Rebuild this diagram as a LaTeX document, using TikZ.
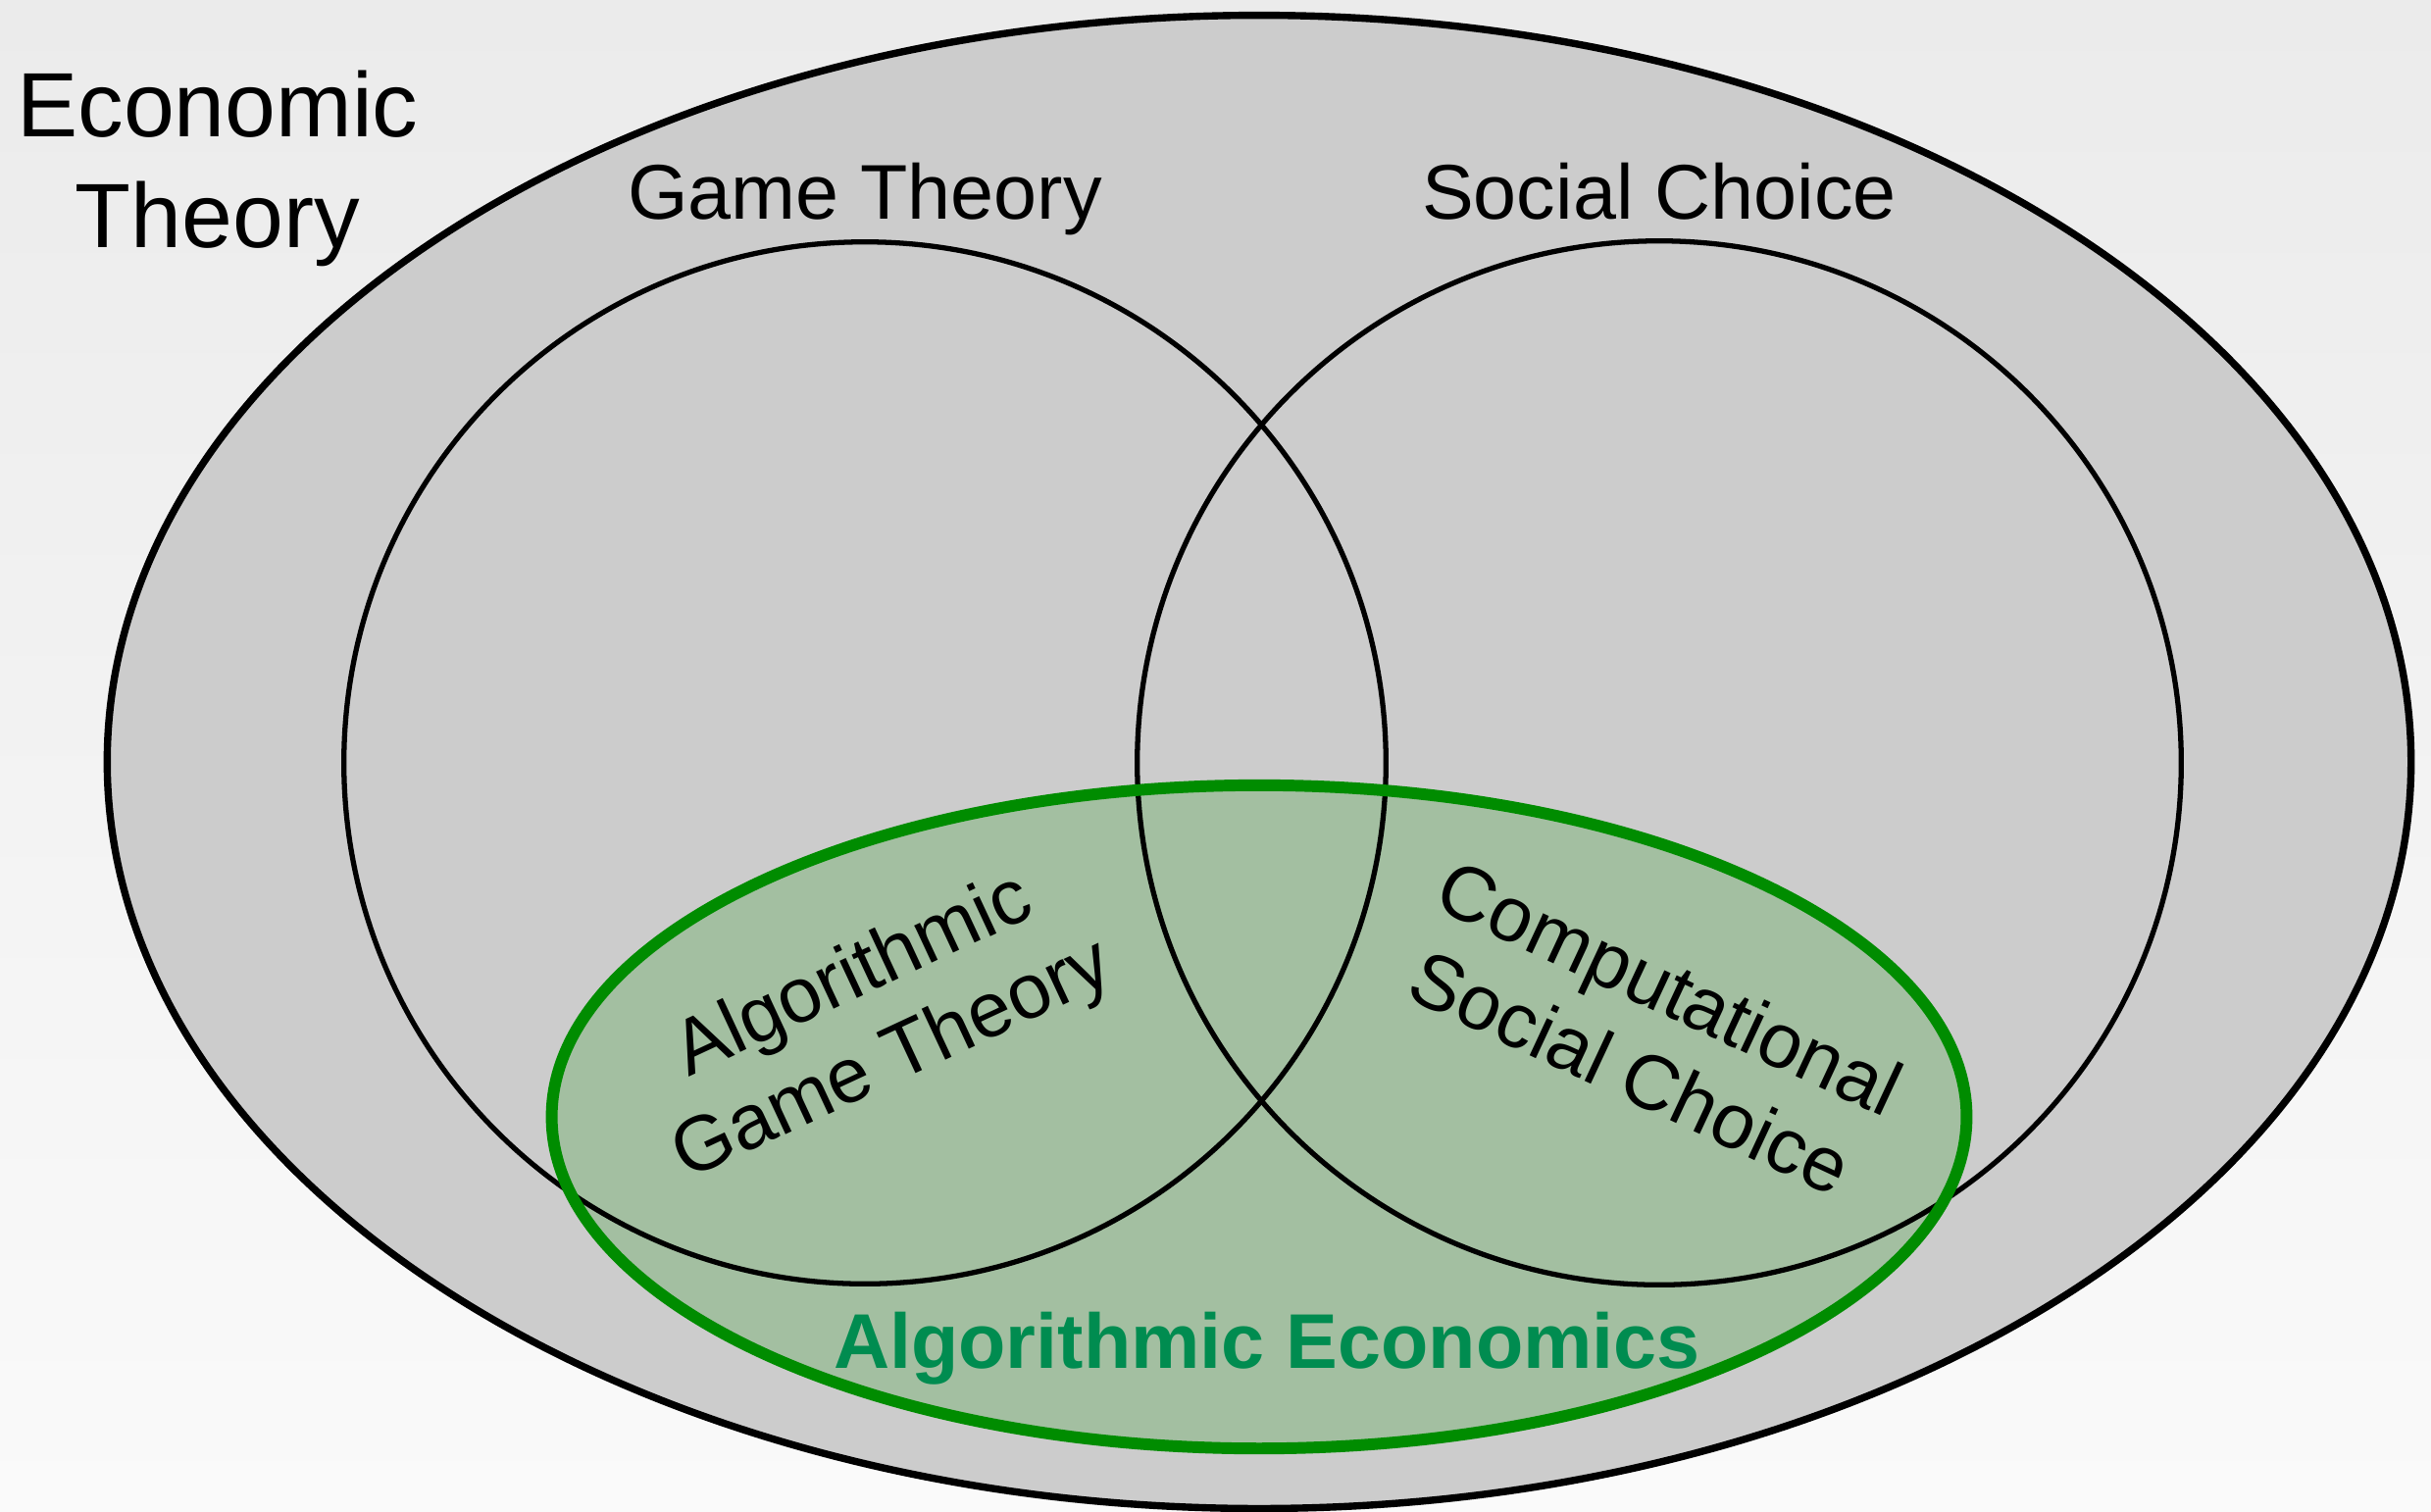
\documentclass[tikz,border=0pt]{standalone}
\usepackage{fontspec}
\setmainfont{Liberation Sans}
\definecolor{bgtop}{HTML}{EBEBEB}
\definecolor{bgbot}{HTML}{FAFAFA}
\definecolor{outerfill}{HTML}{CCCCCC}
\definecolor{algfill}{HTML}{A3BFA1}
\definecolor{algline}{HTML}{008C00}
\definecolor{algtext}{HTML}{008C50}
\tikzset{
  lbl/.style={inner sep=0pt, align=center, font=\fontsize{22.5}{27}\selectfont},
  biglbl/.style={inner sep=0pt, align=center, font=\fontsize{26.5}{32}\selectfont},
  setline/.style={draw=black, line width=1.5pt},
}
\begin{document}
\begin{tikzpicture}[x=0.01cm,y=-0.01cm]
\useasboundingbox (0,0) rectangle (2479,1541);
\shade[top color=bgtop,bottom color=bgbot] (0,0) rectangle (2479,1541);
\begin{scope}
\clip (0,0) rectangle (2479,1541);
% Economic theory
\filldraw[fill=outerfill, draw=black, line width=2.1pt] (1284,777) ellipse [x radius=11.74cm, y radius=7.61cm];
% Algorithmic economics fill
\fill[algfill] (1284,1139) ellipse [x radius=7.21cm, y radius=3.38cm];
% Game theory and social choice
\draw[setline] (882,778) circle [radius=5.31cm];
\draw[setline] (1692,778) circle [radius=5.32cm];
% Algorithmic economics outline
\draw[algline, line width=3.4pt] (1284,1139) ellipse [x radius=7.21cm, y radius=3.38cm];
\end{scope}
\node[biglbl] (econ) at (222,172) {Economic\\Theory};
\node[lbl, anchor=base] (gt) at (882,223) {Game Theory};
\node[lbl, anchor=base] (sc) at (1692,223) {Social Choice};
\node[lbl, rotate=25] (agt) at (891,1040) {Algorithmic\\Game Theory};
\node[lbl, rotate=-25] (csc) at (1683,1050) {Computational\\Social Choice};
\node[lbl, anchor=base, text=algtext, font=\fontsize{22.5}{27}\selectfont\bfseries] (ae) at (1292,1395) {Algorithmic Economics};
\end{tikzpicture}
\end{document}
